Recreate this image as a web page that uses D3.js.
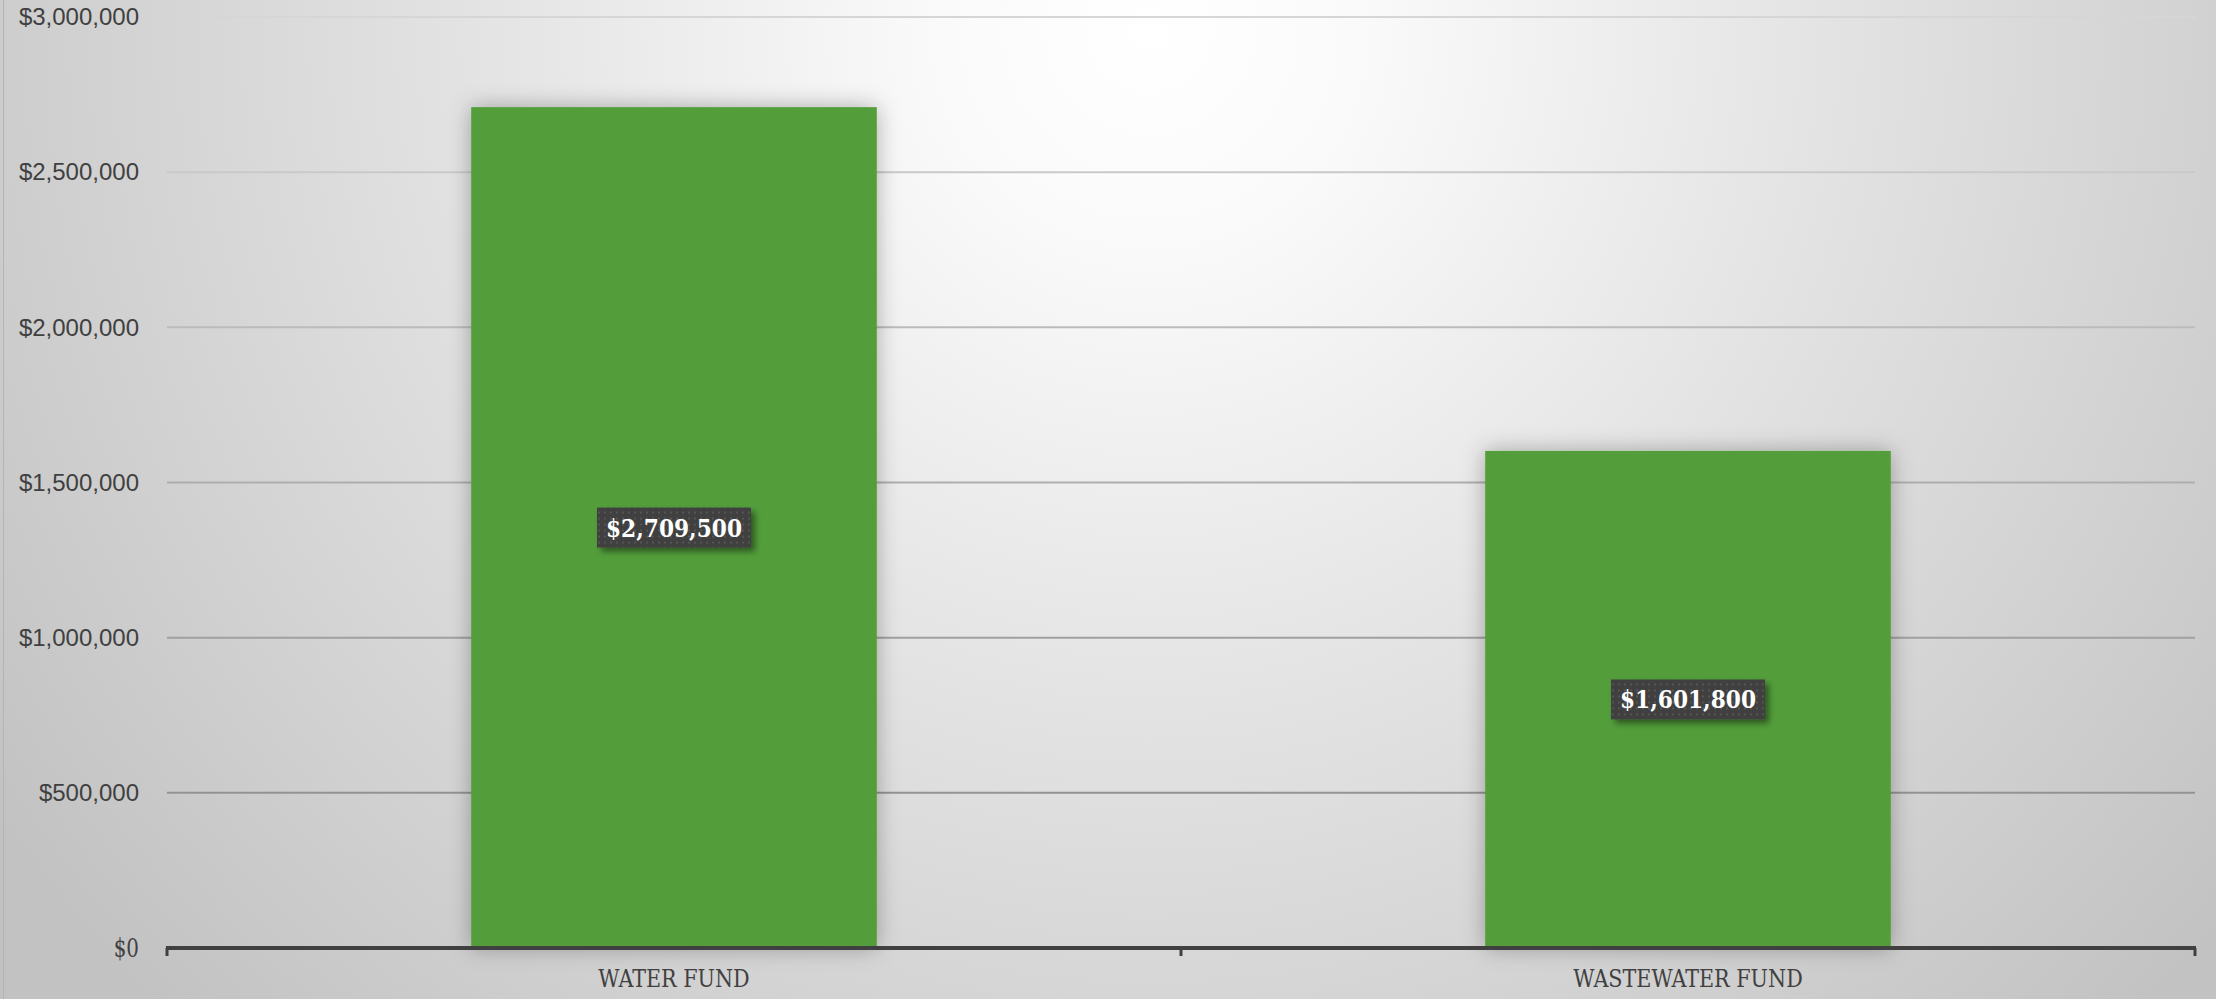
<!DOCTYPE html>
<html>
<head>
<meta charset="utf-8">
<script src="https://cdnjs.cloudflare.com/ajax/libs/d3/7.8.5/d3.min.js"></script>
<style>
  html, body { margin: 0; padding: 0; overflow: hidden; background: #d0d0d0; }
  svg { display: block; }
</style>
</head>
<body>
<div id="chart"></div>
<script>
// data
var funds = ["WATER FUND", "WASTEWATER FUND"];
var amounts = [2709500, 1601800];
var tickValues = [0, 500000, 1000000, 1500000, 2000000, 2500000, 3000000];

var W = 2216, H = 999;
var margin = { top: 17, right: 21, bottom: 51, left: 167 },
    width = W - margin.left - margin.right,
    height = H - margin.top - margin.bottom;

var svg = d3.select("#chart").append("svg")
    .attr("width", W)
    .attr("height", H);

var defs = svg.append("defs");

// background radial gradient
var bg = defs.append("radialGradient")
    .attr("id", "bg")
    .attr("gradientUnits", "userSpaceOnUse")
    .attr("cx", 1150).attr("cy", 30).attr("r", 1400);
bg.append("stop").attr("offset", "0%").attr("stop-color", "#ffffff");
bg.append("stop").attr("offset", "15%").attr("stop-color", "#fafafa");
bg.append("stop").attr("offset", "50%").attr("stop-color", "#e2e2e2");
bg.append("stop").attr("offset", "100%").attr("stop-color", "#c2c2c2");

// soft glow shadow around bars
var barShadow = defs.append("filter")
    .attr("id", "barShadow")
    .attr("x", "-20%").attr("y", "-20%")
    .attr("width", "140%").attr("height", "140%");
barShadow.append("feDropShadow")
    .attr("dx", 0).attr("dy", 0)
    .attr("stdDeviation", 11)
    .attr("flood-color", "#000")
    .attr("flood-opacity", 0.3);

// drop shadow for data labels
var labelShadow = defs.append("filter")
    .attr("id", "labelShadow")
    .attr("x", "-20%").attr("y", "-40%")
    .attr("width", "150%").attr("height", "200%");
labelShadow.append("feDropShadow")
    .attr("dx", 4).attr("dy", 4)
    .attr("stdDeviation", 3)
    .attr("flood-color", "#000")
    .attr("flood-opacity", 0.45);

// dotted texture for label boxes
var pat = defs.append("pattern")
    .attr("id", "dots")
    .attr("patternUnits", "userSpaceOnUse")
    .attr("width", 6).attr("height", 6);
pat.append("rect").attr("width", 6).attr("height", 6).attr("fill", "#3f3f3f");
pat.append("rect").attr("x", 2).attr("y", 2).attr("width", 2).attr("height", 2).attr("fill", "#555");

svg.append("rect")
    .attr("width", W).attr("height", H)
    .attr("fill", "url(#bg)");
svg.append("line")
    .attr("x1", 3.5).attr("x2", 3.5).attr("y1", 0).attr("y2", H)
    .attr("stroke", "#b4b4b4").attr("stroke-width", 1);

var g = svg.append("g")
    .attr("transform", "translate(" + margin.left + "," + margin.top + ")");

var x = d3.scaleBand()
    .domain(funds)
    .range([0, width])
    .paddingInner(0.6)
    .paddingOuter(0.3);

var y = d3.scaleLinear()
    .domain([0, 3000000])
    .range([height, 0]);

var fmt = d3.format("$,.0f");

// gridlines, darker toward the bottom
var gridColor = d3.scaleLinear()
    .domain([0, 3000000])
    .range(["#858585", "#d6d6d6"]);

g.selectAll(".grid")
    .data(tickValues.filter(function (d) { return d > 0; }))
    .enter().append("line")
    .attr("class", "grid")
    .attr("x1", 0).attr("x2", width)
    .attr("y1", function (d) { return y(d); })
    .attr("y2", function (d) { return y(d); })
    .attr("stroke", function (d) { return gridColor(d); })
    .attr("stroke-width", 2);

// y axis labels
var yAxis = g.append("g")
    .call(d3.axisLeft(y).tickValues(tickValues).tickFormat(fmt).tickSize(0).tickPadding(28));
yAxis.select(".domain").remove();
yAxis.selectAll("text")
    .attr("fill", "#404040")
    .style("font-family", "'Liberation Sans', Arial, sans-serif")
    .style("font-size", "24px");
yAxis.selectAll(".tick")
    .filter(function (d) { return d === 0; })
    .select("text")
    .style("font-family", "'DejaVu Serif Condensed', 'DejaVu Serif', serif")
    .style("font-size", "26px")
    .attr("transform", "scale(0.85,1)")
    .attr("x", -28 / 0.85);

// bars
g.selectAll(".bar")
    .data(amounts)
    .enter().append("rect")
    .attr("class", "bar")
    .attr("x", function (d, i) { return x(funds[i]); })
    .attr("y", function (d) { return y(d); })
    .attr("width", x.bandwidth())
    .attr("height", function (d) { return height - y(d); })
    .attr("fill", "#529e3a")
    .attr("filter", "url(#barShadow)");

// x axis
var cats = d3.scaleLinear().domain([0, funds.length]).range([0, width]);
var xAxis = g.append("g")
    .attr("transform", "translate(0," + height + ")");
xAxis.append("line")
    .attr("x1", -1).attr("x2", width + 1)
    .attr("y1", 0).attr("y2", 0)
    .attr("stroke", "#404040").attr("stroke-width", 4);
xAxis.selectAll(".xtick")
    .data(d3.range(funds.length + 1))
    .enter().append("line")
    .attr("class", "xtick")
    .attr("x1", function (d) { return cats(d); })
    .attr("x2", function (d) { return cats(d); })
    .attr("y1", 0).attr("y2", 8)
    .attr("stroke", "#404040").attr("stroke-width", 3);
xAxis.selectAll(".xlabel")
    .data(funds)
    .enter().append("text")
    .attr("class", "xlabel")
    .attr("transform", function (d) {
        return "translate(" + (x(d) + x.bandwidth() / 2) + ",39) scale(0.92,1)";
    })
    .attr("text-anchor", "middle")
    .attr("fill", "#404040")
    .style("font-family", "'DejaVu Serif Condensed', 'DejaVu Serif', serif")
    .style("font-size", "25px")
    .text(function (d) { return d; });

// data labels in the middle of each bar
var labels = g.selectAll(".dlabel")
    .data(amounts)
    .enter().append("g")
    .attr("class", "dlabel")
    .attr("transform", function (d, i) {
        return "translate(" + (x(funds[i]) + x.bandwidth() / 2) + "," + (y(d / 2)) + ")";
    });

labels.append("text")
    .attr("text-anchor", "middle")
    .attr("dy", "0.36em")
    .attr("fill", "#ffffff")
    .style("font-family", "'DejaVu Serif', serif")
    .style("font-weight", "bold")
    .style("font-size", "25px")
    .text(function (d) { return fmt(d); });

labels.each(function () {
    var grp = d3.select(this);
    var bb = grp.select("text").node().getBBox();
    var bw = 154, bh = 40;
    grp.insert("rect", "text")
        .attr("x", -bw / 2).attr("y", -bh / 2)
        .attr("width", bw).attr("height", bh)
        .attr("fill", "url(#dots)")
        .attr("filter", "url(#labelShadow)");
    if (bb.width > 137) {
        grp.select("text").attr("textLength", 136).attr("lengthAdjust", "spacingAndGlyphs");
    }
});
</script>
</body>
</html>
